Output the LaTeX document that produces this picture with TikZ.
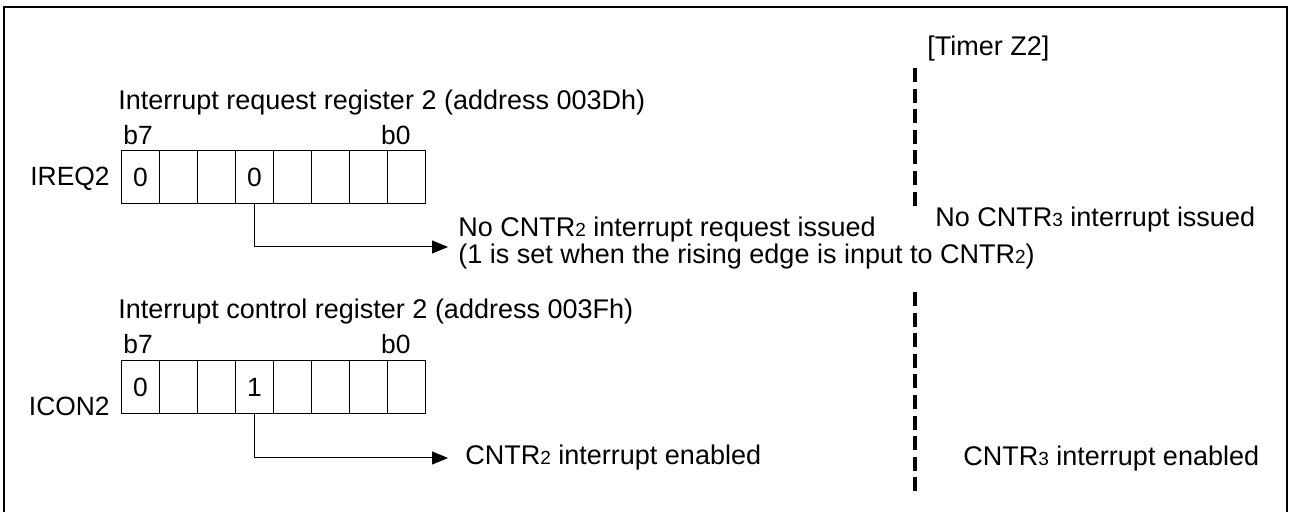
\documentclass[tikz,border=0pt]{standalone}
\usepackage{fontspec}
\setmainfont{Liberation Sans}
\usetikzlibrary{arrows.meta}
\newcommand{\sm}[1]{{\fontsize{9.5}{10}\selectfont #1}}

\begin{document}
\begin{tikzpicture}[x=0.5pt,y=-0.5pt,
    txt/.style={inner sep=0pt, font=\fontsize{13.5}{13.5}\selectfont},
    tag/.style={inner sep=0pt, font=\fontsize{13.2}{13.2}\selectfont},
    cell/.style={draw, line width=0.5pt, minimum width=19pt, minimum height=26.5pt,
      inner sep=0pt, anchor=north west, font=\fontsize{13.2}{13.2}\selectfont},
    flag/.style={-{Triangle[length=8pt,width=6.5pt]}, line width=0.5pt},
    sep/.style={line width=1.7pt, dash pattern=on 7pt off 3.3pt}]
  \useasboundingbox (0,0) rectangle (1289,512);
  \draw[line width=1pt] (4,514) -- (4,7) -- (1287,7) -- (1287,514);

  % interrupt request register
  \node[txt, anchor=base west] (title1) at (118,110) {Interrupt request register 2 (address 003Dh)};
  \node[tag, anchor=base west] (b7a) at (123,145) {b7};
  \node[tag, anchor=base east] (b0a) at (411,145) {b0};
  \node[tag, anchor=base east] (ireq) at (110,186) {IREQ2};
  \foreach \i/\v in {0/0,1/,2/,3/0,4/,5/,6/,7/}
    \node[cell] (q\i) at ({121+38*\i},150) {\v};

  % interrupt control register
  \node[txt, anchor=base west] (title2) at (118,319) {Interrupt control register 2 (address 003Fh)};
  \node[tag, anchor=base west] (b7b) at (123,354) {b7};
  \node[tag, anchor=base east] (b0b) at (411,354) {b0};
  \node[tag, anchor=base east] (icon) at (110,416) {ICON2};
  \foreach \i/\v in {0/0,1/,2/,3/1,4/,5/,6/,7/}
    \node[cell] (c\i) at ({121+38*\i},360) {\v};

  % Timer Z2 side
  \node[txt, anchor=base west] (timer) at (927,56) {[Timer Z2]};
  \coordinate (s1) at (915,68);
  \coordinate (s2) at (915,212);
  \coordinate (s3) at (915,292);
  \coordinate (s4) at (915,497);
  \draw[sep] (s1) -- (s2);
  \draw[sep] (s3) -- (s4);

  % results
  \node[txt, anchor=base west, align=left] (req) at (458,264)
    {No CNTR\sm{2} interrupt request issued\\(1 is set when the rising edge is input to CNTR\sm{2})};
  \node[txt, anchor=base west] (req3) at (935,227) {No CNTR\sm{3} interrupt issued};
  \node[txt, anchor=base west] (ena) at (465,465) {CNTR\sm{2} interrupt enabled};
  \node[txt, anchor=base west] (ena3) at (963,466) {CNTR\sm{3} interrupt enabled};
  \coordinate (t1) at (448,247);
  \coordinate (t2) at (448,458);
  \draw[flag] (q3.south) |- (t1);
  \draw[flag] (c3.south) |- (t2);
\end{tikzpicture}
\end{document}
